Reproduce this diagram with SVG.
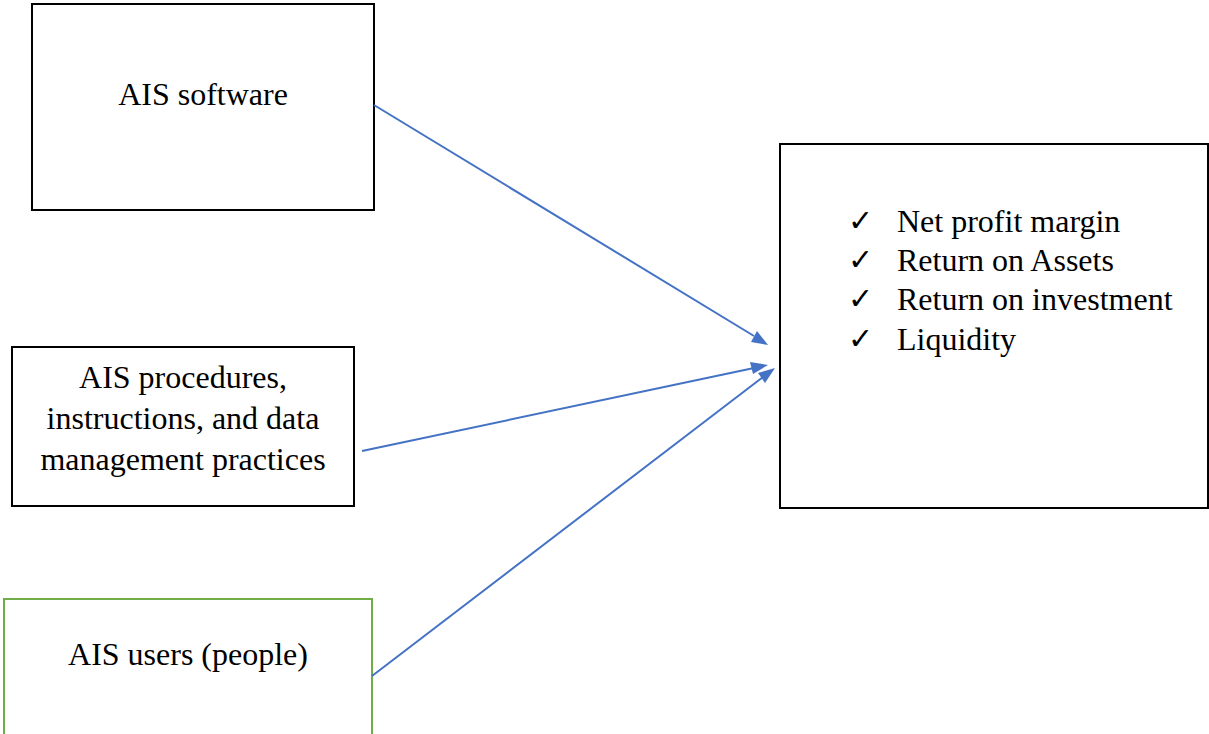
<svg xmlns="http://www.w3.org/2000/svg" width="1209" height="734" viewBox="0 0 1209 734">
<style>
.box{fill:#fff;stroke:#000;stroke-width:2}
.green{fill:#fff;stroke:#70ad47;stroke-width:2}
.t{font-family:"Liberation Serif","Times New Roman",serif;font-size:32px;fill:#000}
.ck{font-family:"DejaVu Sans",sans-serif;font-size:30px;font-weight:bold;fill:#000}
.c{text-anchor:middle}
.conn{stroke:#4472c4;stroke-width:2;fill:none}
</style>
<rect width="1209" height="734" fill="#fff"/>
<g id="n1">
<rect class="box" x="32" y="4" width="342" height="206"/>
<text class="t c" x="203" y="105">AIS software</text>
</g>
<g id="n2">
<rect class="box" x="12" y="347" width="342" height="159"/>
<text class="t c" x="183" y="388">AIS procedures,</text>
<text class="t c" x="183" y="429">instructions, and data</text>
<text class="t c" x="183" y="470">management practices</text>
</g>
<g id="n3">
<rect class="green" x="4" y="599" width="368" height="150"/>
<text class="t c" x="188" y="665">AIS users (people)</text>
</g>
<g id="n4">
<rect class="box" x="780" y="144" width="428" height="364"/>
<text class="ck" x="848" y="231">✓</text>
<text class="t" x="897" y="232">Net profit margin</text>
<text class="ck" x="848" y="270">✓</text>
<text class="t" x="897" y="271">Return on Assets</text>
<text class="ck" x="848" y="309">✓</text>
<text class="t" x="897" y="310">Return on investment</text>
<text class="ck" x="848" y="349">✓</text>
<text class="t" x="897" y="350">Liquidity</text>
</g>
<g id="connectors">
<line class="conn" x1="374" y1="105" x2="754" y2="336"/>
<path d="M768,345 L751,342 L757,331 z" fill="#4472c4"/>
<line class="conn" x1="362" y1="451" x2="754" y2="368"/>
<path d="M768,365 L753,374 L750,362 z" fill="#4472c4"/>
<line class="conn" x1="372" y1="676" x2="763" y2="377"/>
<path d="M775,368 L765,383 L758,373 z" fill="#4472c4"/>
</g>
</svg>
